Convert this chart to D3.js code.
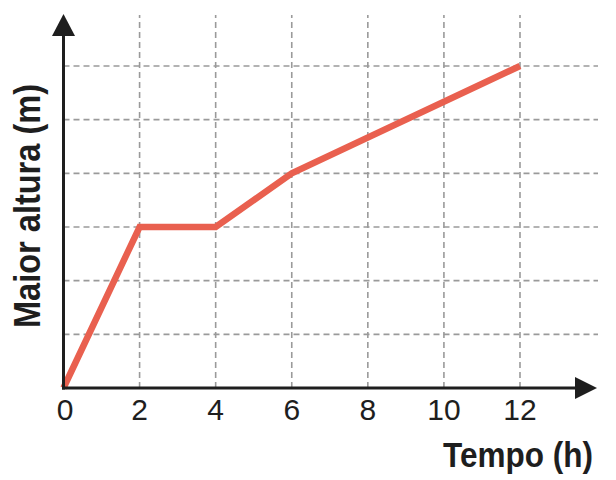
<!DOCTYPE html>
<html>
<head>
<meta charset="utf-8">
<script src="https://cdn.jsdelivr.net/npm/d3@7"></script>
<style>
  html, body { margin: 0; padding: 0; background: #fff; }
  svg { display: block; }
</style>
</head>
<body>
<svg id="chart" width="616" height="480"></svg>
<script>
// Data
const tempo = [0, 2, 4, 6, 12];
const altura = [0, 3, 3, 4, 6];
const xTicks = [0, 2, 4, 6, 8, 10, 12];
const yGrid = [1, 2, 3, 4, 5, 6];
const xLabel = "Tempo (h)";
const yLabel = "Maior altura (m)";

const svg = d3.select("#chart");
const x = d3.scaleLinear().domain([0, 12]).range([63.5, 520]);
const y = d3.scaleLinear().domain([0, 6]).range([388, 66]);

const gridColor = "#9a9a9a";
const axisColor = "#1e1e1e";

// Horizontal grid lines
svg.append("g").selectAll("line").data(yGrid).join("line")
  .attr("x1", x(0)).attr("x2", 598)
  .attr("y1", d => y(d)).attr("y2", d => y(d))
  .attr("stroke", gridColor).attr("stroke-width", 1.6)
  .attr("stroke-dasharray", "6,4");

// Vertical grid lines
svg.append("g").selectAll("line").data(xTicks.filter(d => d > 0)).join("line")
  .attr("x1", d => x(d)).attr("x2", d => x(d))
  .attr("y1", y(0)).attr("y2", 15)
  .attr("stroke", gridColor).attr("stroke-width", 1.6)
  .attr("stroke-dasharray", "6,4");

// Data line
const line = d3.line().x((d, i) => x(tempo[i])).y(d => y(d));
svg.append("path").datum(altura)
  .attr("d", line)
  .attr("fill", "none")
  .attr("stroke", "#e9604f")
  .attr("stroke-width", 6.5)
  .attr("stroke-linejoin", "miter")
  .attr("stroke-linecap", "butt");

// Axes
svg.append("line").attr("x1", x(0) - 1.5).attr("x2", 580).attr("y1", y(0)).attr("y2", y(0))
  .attr("stroke", axisColor).attr("stroke-width", 3);
svg.append("path").attr("d", `M575,${y(0)-11}L597,${y(0)}L575,${y(0)+11}Z`).attr("fill", axisColor);
svg.append("line").attr("x1", x(0)).attr("x2", x(0)).attr("y1", y(0) + 1.5).attr("y2", 32)
  .attr("stroke", axisColor).attr("stroke-width", 3);
svg.append("path").attr("d", `M${x(0)-11.5},36L${x(0)},14L${x(0)+11.5},36Z`).attr("fill", axisColor);

// Tick labels
svg.append("g").selectAll("text").data(xTicks).join("text")
  .attr("x", d => x(d) + (d === 0 ? 1.5 : 0))
  .attr("y", 420)
  .attr("text-anchor", "middle")
  .attr("font-family", "Liberation Sans, Arial, sans-serif")
  .attr("font-size", 30)
  .attr("fill", axisColor)
  .text(d => d);

// Axis titles
svg.append("text")
  .attr("x", 593).attr("y", 467)
  .attr("text-anchor", "end")
  .attr("font-family", "Liberation Sans, Arial, sans-serif")
  .attr("font-weight", "bold")
  .attr("font-size", 35)
  .attr("textLength", 150)
  .attr("lengthAdjust", "spacingAndGlyphs")
  .attr("fill", axisColor)
  .text(xLabel);

svg.append("text")
  .attr("transform", "translate(40,206) rotate(-90)")
  .attr("text-anchor", "middle")
  .attr("font-family", "Liberation Sans, Arial, sans-serif")
  .attr("font-weight", "bold")
  .attr("font-size", 37)
  .attr("textLength", 244)
  .attr("lengthAdjust", "spacingAndGlyphs")
  .attr("fill", axisColor)
  .text(yLabel);
</script>
</body>
</html>
